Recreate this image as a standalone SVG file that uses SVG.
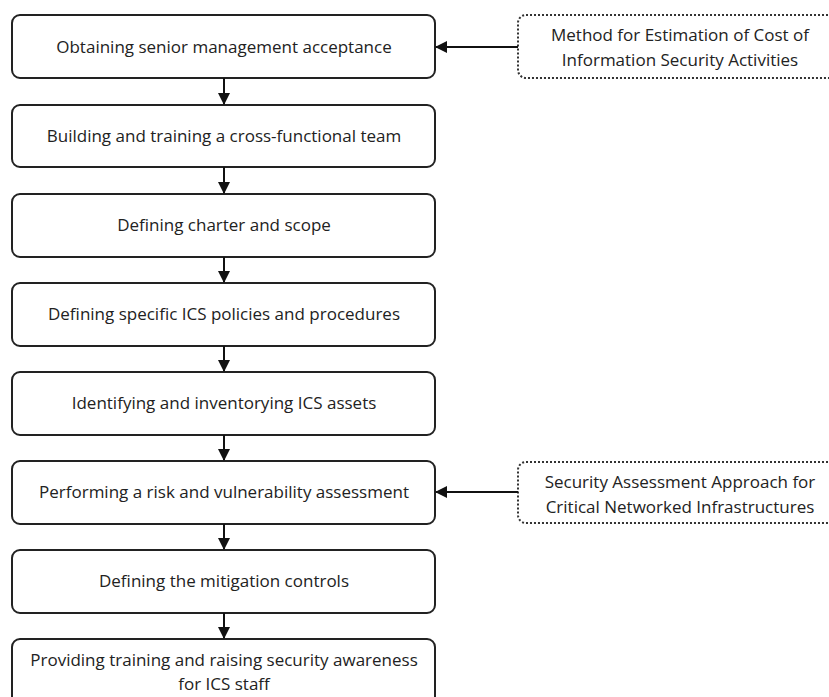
<svg xmlns="http://www.w3.org/2000/svg" width="829" height="697" viewBox="0 0 829 697">
<defs>
<style>
.n{fill:#fff;stroke:#222;stroke-width:2}
.d{fill:#fff;stroke:#333;stroke-width:2;stroke-dasharray:2 2}
.t{font-family:"Open Sans","Liberation Sans",sans-serif;font-size:17px;fill:#222;text-anchor:middle}
.c{stroke:#111;stroke-width:2;fill:none}
</style>
<marker id="ah" markerWidth="12" markerHeight="12" refX="11" refY="6" orient="auto" markerUnits="userSpaceOnUse">
<path d="M0,0 L12,6 L0,12 z" fill="#111"/>
</marker>
</defs>
<rect width="829" height="697" fill="#fff"/>
<g id="n1"><rect class="n" x="12" y="15" width="423" height="63" rx="8"/><text class="t" x="224" y="53">Obtaining senior management acceptance</text></g>
<g id="n2"><rect class="n" x="12" y="105" width="423" height="62" rx="8"/><text class="t" x="224" y="142">Building and training a cross-functional team</text></g>
<g id="n3"><rect class="n" x="12" y="194" width="423" height="63" rx="8"/><text class="t" x="224" y="231">Defining charter and scope</text></g>
<g id="n4"><rect class="n" x="12" y="283" width="423" height="63" rx="8"/><text class="t" x="224" y="320">Defining specific ICS policies and procedures</text></g>
<g id="n5"><rect class="n" x="12" y="372" width="423" height="63" rx="8"/><text class="t" x="224" y="409">Identifying and inventorying ICS assets</text></g>
<g id="n6"><rect class="n" x="12" y="461" width="423" height="63" rx="8"/><text class="t" x="224" y="498">Performing a risk and vulnerability assessment</text></g>
<g id="n7"><rect class="n" x="12" y="550" width="423" height="63" rx="8"/><text class="t" x="224" y="587">Defining the mitigation controls</text></g>
<g id="n8"><rect class="n" x="12" y="639" width="423" height="70" rx="8"/><text class="t" x="224" y="666">Providing training and raising security awareness</text><text class="t" x="224" y="690">for ICS staff</text></g>
<g id="s1"><rect class="d" x="518" y="15" width="330" height="63" rx="8"/><text class="t" x="680" y="41">Method for Estimation of Cost of</text><text class="t" x="680" y="66">Information Security Activities</text></g>
<g id="s2"><rect class="d" x="518" y="462" width="330" height="61" rx="8"/><text class="t" x="680" y="488">Security Assessment Approach for</text><text class="t" x="680" y="513">Critical Networked Infrastructures</text></g>
<g id="connectors">
<line class="c" x1="224" y1="78" x2="224" y2="104" marker-end="url(#ah)"/>
<line class="c" x1="224" y1="167" x2="224" y2="193" marker-end="url(#ah)"/>
<line class="c" x1="224" y1="257" x2="224" y2="282" marker-end="url(#ah)"/>
<line class="c" x1="224" y1="346" x2="224" y2="371" marker-end="url(#ah)"/>
<line class="c" x1="224" y1="435" x2="224" y2="460" marker-end="url(#ah)"/>
<line class="c" x1="224" y1="524" x2="224" y2="549" marker-end="url(#ah)"/>
<line class="c" x1="224" y1="613" x2="224" y2="638" marker-end="url(#ah)"/>
<line class="c" x1="518" y1="47" x2="436" y2="47" marker-end="url(#ah)"/>
<line class="c" x1="518" y1="492" x2="436" y2="492" marker-end="url(#ah)"/>
</g>
</svg>
